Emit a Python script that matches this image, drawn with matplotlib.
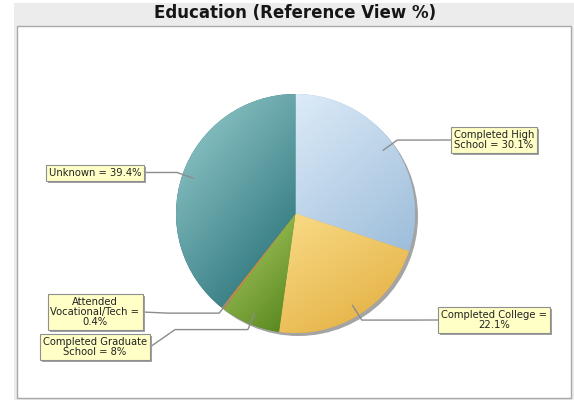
import matplotlib

matplotlib.use("Agg")
import matplotlib.pyplot as plt
import numpy as np
from matplotlib.colors import LinearSegmentedColormap
from matplotlib.patches import Circle, Rectangle

TITLE = "Education (Reference View %)"
CATEGORIES = ["Completed High School", "Completed College", "Completed Graduate School",
              "Attended Vocational/Tech", "Unknown"]
SHARES = [30.1, 22.1, 8.0, 0.4, 39.4]
LABEL_FMT = ["Completed High\nSchool = {}%", "Completed College =\n{}%",
             "Completed Graduate\nSchool = {}%", "Attended\nVocational/Tech =\n{}%",
             "Unknown = {}%"]
# (light, dark) gradient ends per section
SECTION_COLORS = [("#dcebf8", "#9dbdda"), ("#f9dc88", "#e2ac3c"), ("#b2d168", "#52821a"),
                  ("#dcaa62", "#a8742c"), ("#9acfd0", "#1f6a71")]
# label centre y (pixels from top)
LABEL_Y = [140, 320, 347, 312, 172.5]

W, H = 574, 400
CX, CY, R = 295.5, 213.5, 119.5
LEFT_X, RIGHT_X = 95, 494


def py(y):
    return H - y


fig = plt.figure(figsize=(W / 100, H / 100), dpi=100)
ax = fig.add_axes([0, 0, 1, 1])

# chart panel + plot area
ax.add_patch(Rectangle((14, py(400)), 560, 397, facecolor="#ececec", edgecolor="none", zorder=0))
ax.add_patch(Rectangle((17, py(398)), 554, 372, facecolor="white", edgecolor="#a9a9a9",
                       lw=1, zorder=1))
ax.text(295, py(13.5), TITLE, ha="center", va="center", fontsize=12, fontweight="bold",
        color="#161616", zorder=2)

# drop shadow under the pie
ax.add_patch(Circle((CX + 3, py(CY) - 3), R, facecolor="#a4a4a4", edgecolor="none", zorder=2))

wedges, _ = ax.pie(SHARES, startangle=90, counterclock=False, center=(CX, py(CY)), radius=R,
                   wedgeprops=dict(linewidth=0), frame=True)
ax.set_xlim(0, W)
ax.set_ylim(0, H)
ax.set_aspect("equal")
ax.axis("off")

for w, (c0, c1) in zip(wedges, SECTION_COLORS):
    w.set_zorder(3)
    w.set_facecolor(c1)
    ext = w.get_path().get_extents()
    gx, gy = np.meshgrid(np.linspace(0, 1, 120), np.linspace(0, 1, 120))
    t = 0.4 * gx + 0.6 * gy  # top-left light -> bottom-right dark (image rows run downward)
    cmap = LinearSegmentedColormap.from_list("g", [c0, c1])
    im = ax.imshow(t, cmap=cmap, vmin=0, vmax=1, extent=(ext.x0, ext.x1, ext.y0, ext.y1),
                   origin="upper", interpolation="bilinear", zorder=4)
    im.set_clip_path(w)

fig.canvas.draw()
renderer = fig.canvas.get_renderer()
inv = ax.transData.inverted()

angle = 90.0
for w, share, fmt, ly in zip(wedges, SHARES, LABEL_FMT, LABEL_Y):
    span = share / sum(SHARES) * 360
    mid = np.radians(angle - span / 2)
    angle -= span
    side = 1 if np.cos(mid) > 0 else -1
    lx = RIGHT_X if side > 0 else LEFT_X
    lab = ax.text(lx, py(ly), fmt.format(f"{share:g}"), ha="center", va="center",
                  multialignment="center", fontsize=7.2, color="#222222", linespacing=1.0,
                  zorder=7,
                  bbox=dict(boxstyle="square,pad=0.3", facecolor="#ffffc6", edgecolor="#8f8f8f",
                            lw=0.8))
    fig.canvas.draw()
    bb = lab.get_bbox_patch().get_window_extent(renderer)
    (bx0, by0), (bx1, by1) = inv.transform([(bb.x0, bb.y0), (bb.x1, bb.y1)])
    ax.add_patch(Rectangle((bx0 + 2, by0 - 2), bx1 - bx0, by1 - by0, facecolor="#a0a0a0",
                           edgecolor="none", zorder=6))
    edge = bx0 if side > 0 else bx1
    ax_, ay_ = CX + 0.9 * R * np.cos(mid), py(CY) + 0.9 * R * np.sin(mid)
    ex, ey = CX + 1.05 * R * np.cos(mid), py(CY) + 1.05 * R * np.sin(mid)
    turn = edge - side * 25
    ax.plot([ax_, ex, turn, edge], [ay_, ey, ey, py(ly)], color="#8c8c8c", lw=1,
            solid_capstyle="butt", zorder=5)

fig.savefig("out.png", dpi=100, facecolor="white")
